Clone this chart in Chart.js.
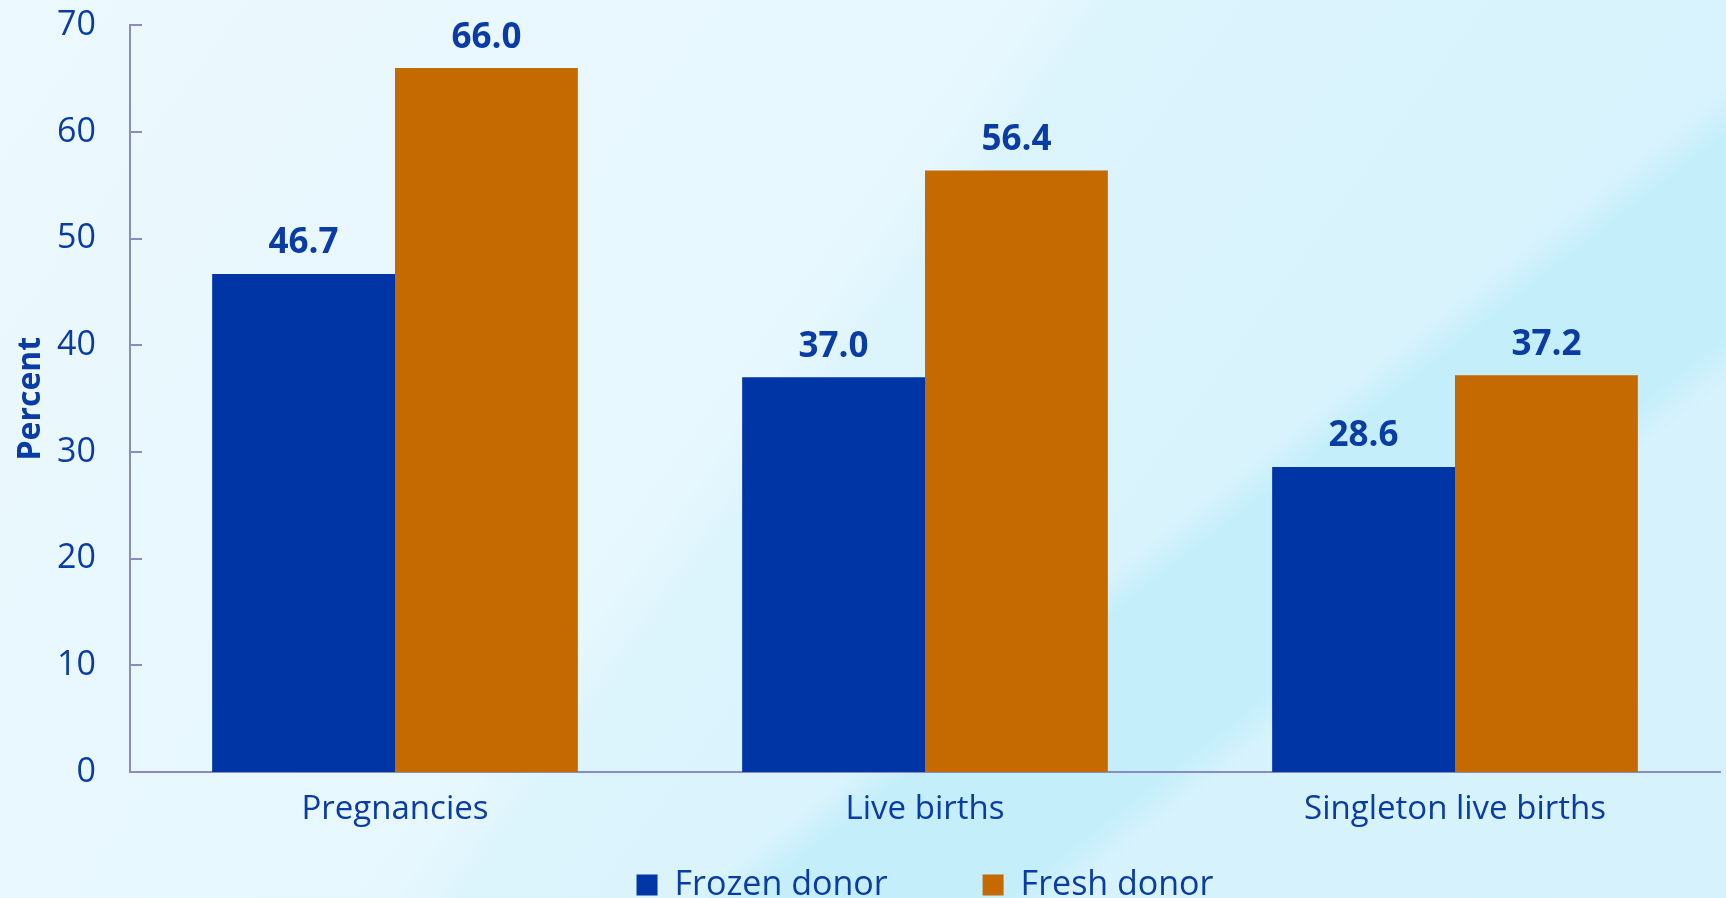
<!doctype html>
<html lang="en">
  <head>
    <meta charset="UTF-8" />
    <title>Frozen vs fresh donor</title>
    <script src="https://cdn.jsdelivr.net/npm/chart.js"></script>
    <style>
      html, body { margin: 0; padding: 0; overflow: hidden; }
      body {
        width: 1726px;
        height: 898px;
        background:
          linear-gradient(142deg, rgba(196,238,251,0) 0%, rgba(196,238,251,0) 64%, rgba(196,238,251,0.95) 66%, rgba(196,238,251,0.95) 75%, rgba(214,243,252,0.6) 77%, rgba(214,243,252,0.6) 100%),
          linear-gradient(126deg, #ecf9fe 0%, #e6f7fe 44%, #dcf4fc 47%, #d8f3fc 70%, #d4f1fc 100%);
      }
      .chart-container { position: absolute; left: 0; top: -29px; width: 1726px; height: 1000px; }
    </style>
  </head>
  <body>
    <div class="chart-container">
      <canvas id="donorChart"></canvas>
    </div>
    <script>
      const categories = ["Pregnancies", "Live births", "Singleton live births"];
      const frozenDonor = [46.7, 37.0, 28.6];
      const freshDonor = [66.0, 56.4, 37.2];
      const yTicks = [0, 10, 20, 30, 40, 50, 60, 70];

      const textBlue = "#0a3ca5";
      const axisColor = "#8a8cc0";
      const font = "'Open Sans', 'DejaVu Sans', sans-serif";

      // legend sits closer under the axis labels than its wide padding allows
      const legendNudge = {
        id: "legendNudge",
        afterLayout(chart) {
          chart.legend.top -= 59;
          chart.legend.bottom -= 59;
        },
      };

      // value labels over the bars + small tick marks inside the y axis
      const extras = {
        id: "extras",
        afterDatasetsDraw(chart) {
          const ctx = chart.ctx;
          ctx.save();
          ctx.fillStyle = textBlue;
          ctx.font = "bold 35px " + font;
          ctx.textAlign = "center";
          ctx.textBaseline = "bottom";
          chart.data.datasets.forEach((ds, i) => {
            chart.getDatasetMeta(i).data.forEach((bar, j) => {
              ctx.fillText(ds.data[j].toFixed(1), bar.x, bar.y - 13);
            });
          });
          const y = chart.scales.y;
          ctx.strokeStyle = axisColor;
          ctx.lineWidth = 2;
          yTicks.forEach((t) => {
            const py = Math.round(y.getPixelForValue(t));
            ctx.beginPath();
            ctx.moveTo(y.right, py);
            ctx.lineTo(y.right + 12, py);
            ctx.stroke();
          });
          ctx.restore();
        },
      };

      const ctx = document.getElementById("donorChart").getContext("2d");
      const chart = new Chart(ctx, {
        type: "bar",
        data: {
          labels: categories,
          datasets: [
            {
              label: "Frozen donor",
              data: frozenDonor,
              backgroundColor: "#0035a5",
              categoryPercentage: 0.69,
              barPercentage: 1.0,
            },
            {
              label: "Fresh donor",
              data: freshDonor,
              backgroundColor: "#c46a00",
              categoryPercentage: 0.69,
              barPercentage: 1.0,
            },
          ],
        },
        options: {
          responsive: true,
          maintainAspectRatio: false,
          animation: false,
          layout: { padding: { top: 6, right: 6, left: 0, bottom: 0 } },
          plugins: {
            tooltip: { enabled: false },
            legend: {
              position: "bottom",
              fullSize: false,
              labels: {
                color: textBlue,
                font: { family: font, size: 34 },
                boxWidth: 21,
                boxHeight: 21,
                padding: 95,
              },
            },
          },
          scales: {
            x: {
              grid: { display: false, drawTicks: false },
              border: { color: axisColor, width: 2 },
              afterFit: (scale) => { scale.height = 60; },
              ticks: {
                color: textBlue,
                font: { family: font, size: 33 },
                padding: 18,
              },
            },
            y: {
              min: 0,
              max: 70,
              afterFit: (scale) => { scale.width = 130; },
              afterBuildTicks: (scale) => {
                scale.ticks = yTicks.map((v) => ({ value: v }));
              },
              grid: { display: false, drawTicks: false },
              border: { color: axisColor, width: 2 },
              ticks: {
                color: textBlue,
                font: { family: font, size: 34 },
                padding: 34,
              },
              title: {
                display: true,
                text: "Percent",
                color: textBlue,
                font: { family: font, size: 32, weight: "bold" },
                padding: { top: 12, bottom: 0 },
              },
            },
          },
        },
        plugins: [extras, legendNudge],
      });
    </script>
  </body>
</html>
